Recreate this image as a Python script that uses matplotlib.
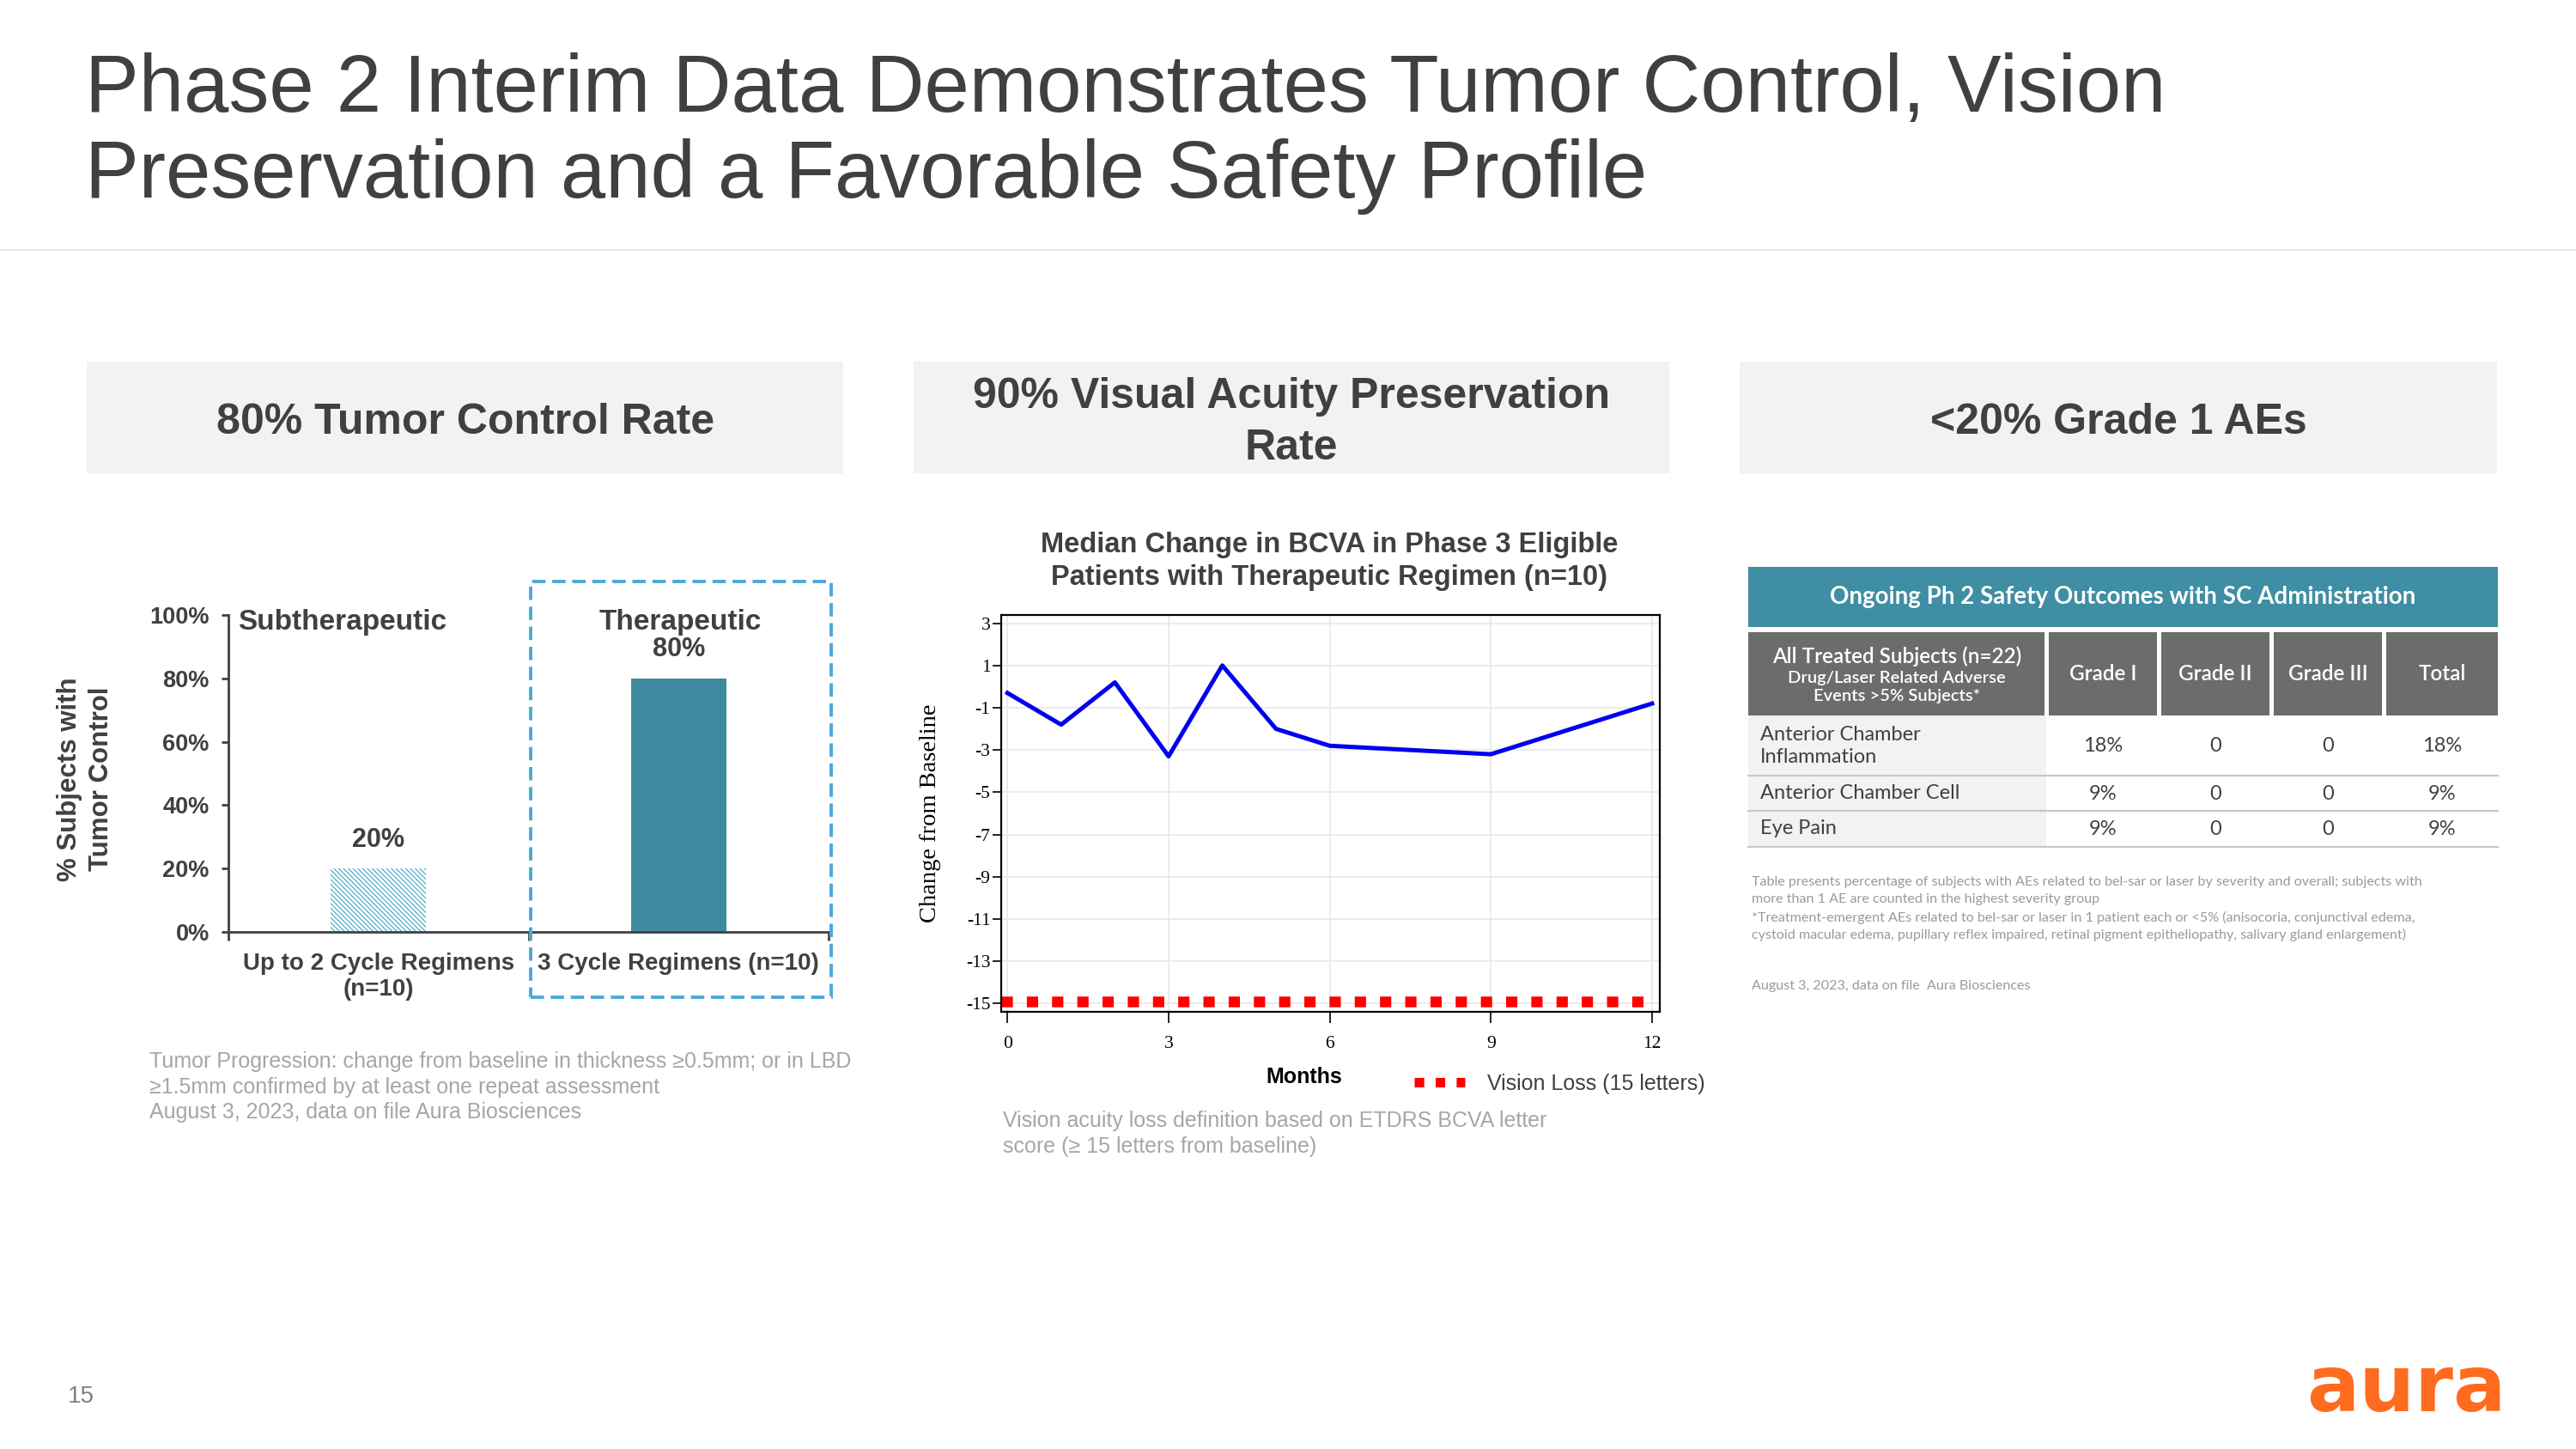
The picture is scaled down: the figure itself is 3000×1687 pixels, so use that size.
import matplotlib
matplotlib.use("Agg")
import matplotlib.pyplot as plt
from matplotlib.patches import Rectangle
from matplotlib.lines import Line2D

# ---------------- data ----------------
title_lines = ["Phase 2 Interim Data Demonstrates Tumor Control, Vision",
               "Preservation and a Favorable Safety Profile"]
panel1_header = ["80% Tumor Control Rate"]
panel2_header = ["90% Visual Acuity Preservation", "Rate"]
panel3_header = ["<20% Grade 1 AEs"]

bar_categories = ["Up to 2 Cycle Regimens\n(n=10)", "3 Cycle Regimens (n=10)"]
bar_values = [20, 80]
bar_value_labels = ["20%", "80%"]
bar_group_labels = ["Subtherapeutic", "Therapeutic"]
bar_yticks = [0, 20, 40, 60, 80, 100]
bar_ytick_labels = ["0%", "20%", "40%", "60%", "80%", "100%"]
bar_ylabel = ["% Subjects with", "Tumor Control"]
bar_footnote = ["Tumor Progression: change from baseline in thickness \u22650.5mm; or in LBD",
                "\u22651.5mm confirmed by at least one repeat assessment",
                "August 3, 2023, data on file Aura Biosciences"]

bcva_title = ["Median Change in BCVA in Phase 3 Eligible",
              "Patients with Therapeutic Regimen (n=10)"]
bcva_months = [0, 1, 2, 3, 4, 5, 6, 9, 12]
bcva_median = [-0.3, -1.8, 0.2, -3.3, 1.0, -2.0, -2.8, -3.2, -0.8]
vision_loss_months = [-0.12, 12.0]
vision_loss_level = [-14.9, -14.9]
bcva_xticks = [0, 3, 6, 9, 12]
bcva_yticks = [3, 1, -1, -3, -5, -7, -9, -11, -13, -15]
bcva_footnote = ["Vision acuity loss definition based on ETDRS BCVA letter",
                 "score (\u2265 15 letters from baseline)"]

table_title = "Ongoing Ph 2 Safety Outcomes with SC Administration"
table_head_first = ["All Treated Subjects (n=22)", "Drug/Laser Related Adverse",
                    "Events >5% Subjects*"]
table_columns = ["Grade I", "Grade II", "Grade III", "Total"]
table_row_labels = [["Anterior Chamber", "Inflammation"], ["Anterior Chamber Cell"], ["Eye Pain"]]
table_values = [["18%", "0", "0", "18%"],
                ["9%", "0", "0", "9%"],
                ["9%", "0", "0", "9%"]]
table_footnote = ["Table presents percentage of subjects with AEs related to bel-sar or laser by severity and overall; subjects with",
                  "more than 1 AE are counted in the highest severity group",
                  "*Treatment-emergent AEs related to bel-sar or laser in 1 patient each or <5% (anisocoria, conjunctival edema,",
                  "cystoid macular edema, pupillary reflex impaired, retinal pigment epitheliopathy, salivary gland enlargement)"]
table_source = "August 3, 2023, data on file  Aura Biosciences"
page_number = "15"
logo_text = "aura"

# ---------------- layout helpers ----------------
W, H, DPI = 3000, 1687, 100
plt.rcParams["hatch.linewidth"] = 0.8
fig = plt.figure(figsize=(W / DPI, H / DPI), dpi=DPI)
fig.patch.set_facecolor("white")

SANS = ["Liberation Sans", "DejaVu Sans"]
SERIF = ["Liberation Serif", "DejaVu Serif"]
LATO = ["Lato", "DejaVu Sans"]
DARK = "#404040"
GRAY = "#A6A6A6"


def X(x):
    return x / W


def Y(y):
    return 1 - y / H


def T(x, y, s, **kw):
    kw.setdefault("family", SANS)
    kw.setdefault("color", DARK)
    return fig.text(X(x), Y(y), s, **kw)


def rect(l, t, r, b, **kw):
    p = Rectangle((X(l), Y(b)), (r - l) / W, (b - t) / H, transform=fig.transFigure, **kw)
    fig.add_artist(p)
    return p


def hline(l, r, y, **kw):
    fig.add_artist(Line2D([X(l), X(r)], [Y(y), Y(y)], transform=fig.transFigure, **kw))


def axes_px(l, t, r, b):
    return fig.add_axes([X(l), Y(b), (r - l) / W, (b - t) / H])


# ---------------- title ----------------
T(99, 130, title_lines[0], fontsize=67.7, va="baseline", ha="left")
T(99, 230, title_lines[1], fontsize=67.7, va="baseline", ha="left")
hline(0, W, 291, color="#E8E8E8", lw=1.5)

# ---------------- panel headers ----------------
for (l, r) in [(101, 982), (1064, 1944), (2026, 2908)]:
    rect(l, 421, r, 551, facecolor="#F2F2F2", edgecolor="none")
T(542, 492, panel1_header[0], fontsize=36, weight="bold", ha="center", va="center")
T(1504, 462, panel2_header[0], fontsize=36, weight="bold", ha="center", va="center")
T(1504, 522, panel2_header[1], fontsize=36, weight="bold", ha="center", va="center")
T(2467, 492, panel3_header[0], fontsize=36, weight="bold", ha="center", va="center")

# ---------------- panel 1: bar chart ----------------
ax1 = axes_px(266, 716, 965, 1085)
x_pos = list(range(len(bar_values)))
bars = ax1.bar(x_pos, bar_values, width=0.317, color=["white", "#3E8A9E"], linewidth=0)
bars[0].set_hatch("\\\\\\\\\\\\")
bars[0].set_edgecolor("#3FA6C4")
ax1.set_xlim(-0.5, 1.5)
ax1.set_ylim(0, 100)
for s in ["top", "right"]:
    ax1.spines[s].set_visible(False)
for s in ["left", "bottom"]:
    ax1.spines[s].set_color(DARK)
    ax1.spines[s].set_linewidth(2)
ax1.set_yticks(bar_yticks)
ax1.set_yticklabels(bar_ytick_labels, fontsize=19.5, fontweight="bold", color=DARK, family=SANS)
ax1.tick_params(axis="y", length=6, width=2, color=DARK, pad=10)
ax1.set_xticks(x_pos)
ax1.set_xticklabels(bar_categories, fontsize=20, fontweight="bold", color=DARK, family=SANS)
ax1.tick_params(axis="x", which="major", length=0, pad=17)
ax1.set_xticks([-0.5, 0.5, 1.5], minor=True)
ax1.tick_params(axis="x", which="minor", length=7, width=2, color=DARK)
ax1.set_facecolor("none")
for xi, v, lab in zip(x_pos, bar_values, bar_value_labels):
    ax1.annotate(lab, (xi, v), xytext=(0, 24), textcoords="offset points",
                 ha="center", va="center", fontsize=22, fontweight="bold", color=DARK, family=SANS)
T(277, 724, bar_group_labels[0], fontsize=24, weight="bold", ha="left", va="center")
T(792, 724, bar_group_labels[1], fontsize=24, weight="bold", ha="center", va="center")
T(81, 907, bar_ylabel[0], fontsize=22.5, weight="bold", rotation=90, ha="center", va="center")
T(118, 907, bar_ylabel[1], fontsize=22.5, weight="bold", rotation=90, ha="center", va="center")
rect(618, 677, 968, 1161, fill=False, edgecolor="#4DA8DA", lw=2.8, linestyle=(0, (4, 2)))
for i, line in enumerate(bar_footnote):
    T(174, 1236 + 29.5 * i, line, fontsize=18, color=GRAY, ha="left", va="center")

# ---------------- panel 2: line chart ----------------
T(1548, 634, bcva_title[0], fontsize=23.5, weight="bold", ha="center", va="center")
T(1548, 673, bcva_title[1], fontsize=23.5, weight="bold", ha="center", va="center")
ax2 = axes_px(1166, 716, 1933, 1178)
ax2.set_xlim(-0.116, 12.145)
ax2.set_ylim(-15.39, 3.39)
ax2.grid(True, color="#E8E8E8", lw=1.2)
ax2.set_axisbelow(True)
ax2.plot(bcva_months, bcva_median, color="#0000EE", lw=3.6)
ax2.plot(vision_loss_months, vision_loss_level, color="#FF0000", lw=9,
         dashes=(1.05, 1.3), dash_capstyle="butt")
for s in ax2.spines.values():
    s.set_color("black")
    s.set_linewidth(1.6)
ax2.set_xticks(bcva_xticks)
ax2.set_xticklabels([str(v) for v in bcva_xticks], fontsize=15.5, family=SERIF)
ax2.set_yticks(bcva_yticks)
ax2.set_yticklabels([str(v) for v in bcva_yticks], fontsize=15.5, family=SERIF)
ax2.tick_params(axis="x", length=9, width=1.2, pad=11)
ax2.tick_params(axis="y", length=7, width=1.2, pad=2)
T(1083, 947, "Change from Baseline", family=SERIF, color="black", fontsize=20.5,
  rotation=90, ha="center", va="center")
T(1519, 1254, "Months", fontsize=18, weight="bold", color="black", ha="center", va="center")
fig.add_artist(Line2D([X(1647), X(1706)], [Y(1260), Y(1260)], transform=fig.transFigure,
                      color="#FF0000", lw=8, dashes=(1.0, 1.2), dash_capstyle="butt"))
T(1732, 1262, "Vision Loss (15 letters)", fontsize=18, ha="left", va="center")
for i, line in enumerate(bcva_footnote):
    T(1168, 1305 + 30 * i, line, fontsize=18, color=GRAY, ha="left", va="center")

# ---------------- panel 3: table ----------------
TL, TR = 2036, 2909
rect(TL, 660, TR, 730, facecolor="#3F8EA3", edgecolor="none")
T((TL + TR) / 2, 695, table_title, family=LATO, fontsize=20, weight="bold",
  color="white", ha="center", va="center")
col_bounds = [(2036, 2381), (2386, 2512), (2517, 2643), (2648, 2774), (2779, 2909)]
head_top, head_bot = 736, 833
for (l, r) in col_bounds:
    rect(l, head_top, r, head_bot, facecolor="#6B6D6D", edgecolor="none")
T(2209, 764, table_head_first[0], family=LATO, fontsize=17.5, weight="semibold",
  color="white", ha="center", va="center")
T(2209, 789, table_head_first[1], family=LATO, fontsize=14.5, weight="semibold",
  color="white", ha="center", va="center")
T(2209, 810, table_head_first[2], family=LATO, fontsize=14.5, weight="semibold",
  color="white", ha="center", va="center")
for (l, r), name in zip(col_bounds[1:], table_columns):
    T((l + r) / 2, 785, name, family=LATO, fontsize=17.5, weight="semibold",
      color="white", ha="center", va="center")
row_bounds = [(833, 903), (903, 944), (944, 986)]
for (t, b) in row_bounds:
    rect(2036, t, 2383, b, facecolor="#F2F2F2", edgecolor="none")
    hline(TL, TR, b, color="#C8C8C8", lw=1.6)
for (t, b), labs, vals in zip(row_bounds, table_row_labels, table_values):
    cy = (t + b) / 2
    n = len(labs)
    for k, lab in enumerate(labs):
        T(2050, cy + (k - (n - 1) / 2) * 26, lab, family=LATO, fontsize=17,
          ha="left", va="center")
    for (l, r), v in zip(col_bounds[1:], vals):
        T((l + r) / 2, cy + 1, v, family=LATO, fontsize=17, ha="center", va="center")
for i, line in enumerate(table_footnote):
    T(2040, 1027 + 20.5 * i, line, family=LATO, fontsize=11.6, color="#9A9A9A",
      ha="left", va="center")
T(2040, 1148, table_source, family=LATO, fontsize=11.6, color="#9A9A9A", ha="left", va="center")

# ---------------- footer ----------------
T(94, 1626, page_number, fontsize=20, color="#808080", ha="center", va="center")
T(2919, 1643, logo_text, family=["DejaVu Sans"], fontsize=65.5, weight="bold", color="#FF6B1F",
  ha="right", va="baseline")

fig.savefig("out.png", dpi=DPI, facecolor="white")
